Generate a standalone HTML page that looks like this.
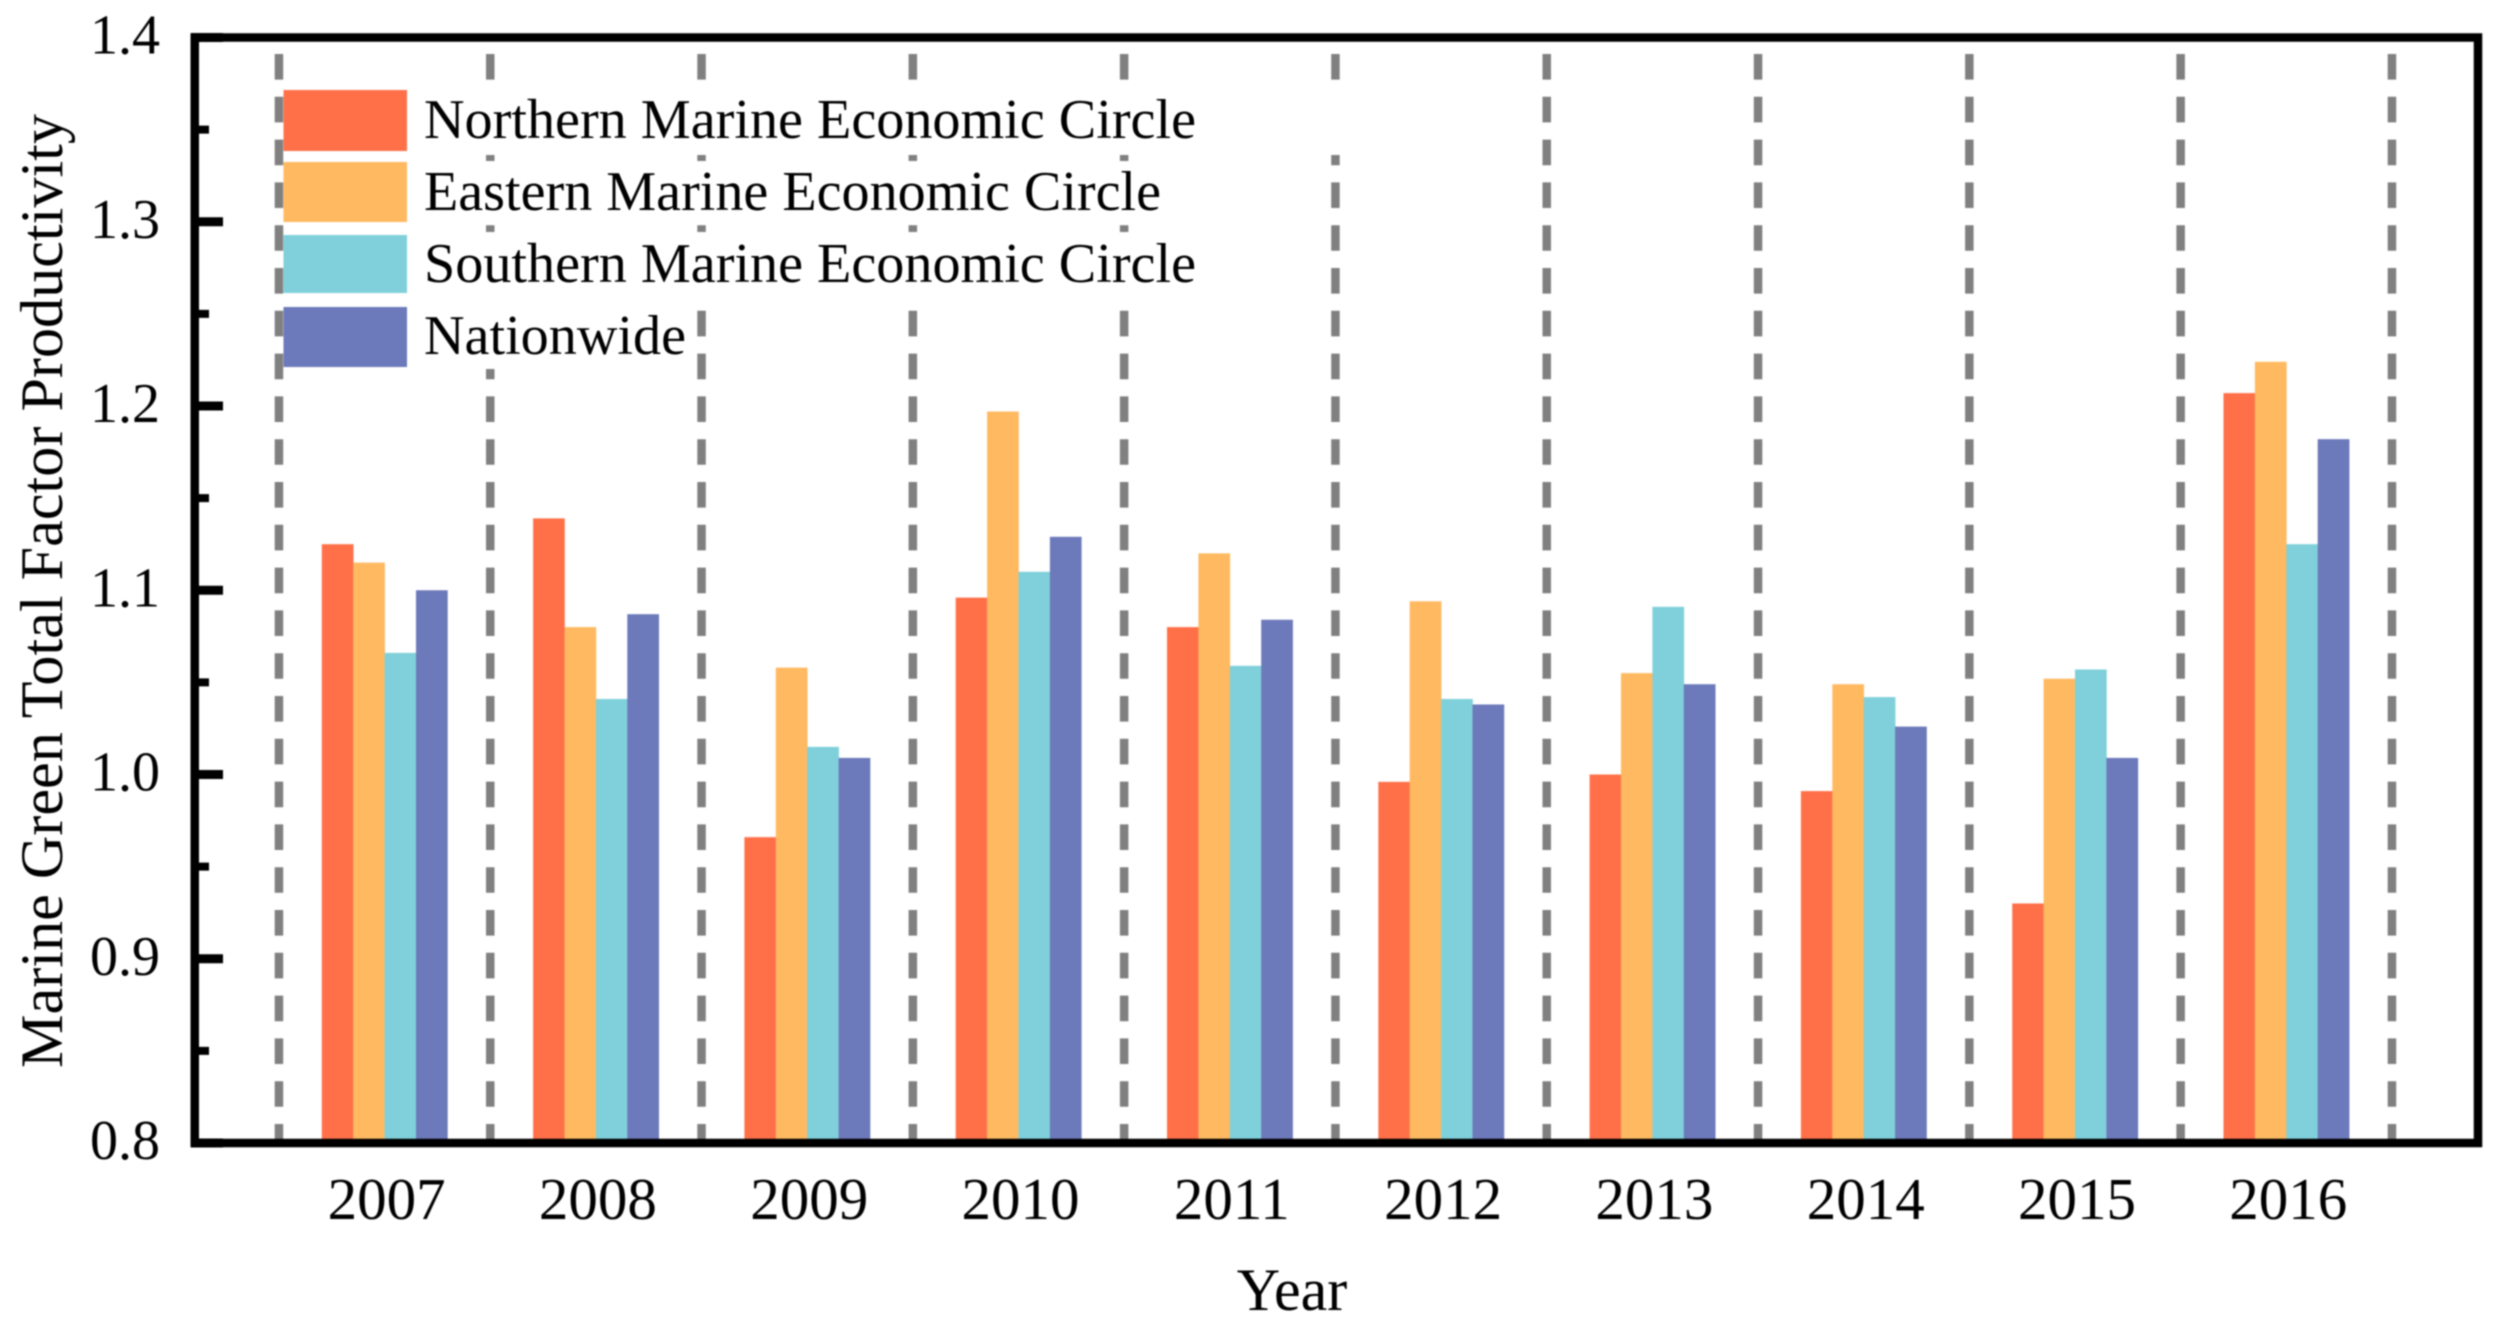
<!DOCTYPE html>
<html lang="en">
<head>
<meta charset="utf-8">
<title>Marine Green Total Factor Productivity</title>
<style>
  html, body { margin: 0; padding: 0; background: #fff; }
  svg { display: block; filter: blur(0.7px); }
  text { font-family: "Liberation Serif", serif; fill: #000; }
</style>
</head>
<body>
<svg id="chart" xmlns="http://www.w3.org/2000/svg" width="2500" height="1328" viewBox="0 0 2500 1328">
  <rect x="0" y="0" width="2500" height="1328" fill="#fff"/>
  <g id="separators"></g>
  <g id="bars"></g>
  <g id="legend">
    <rect x="284" y="80" width="1060" height="75" fill="#fff"/>
    <rect x="284" y="161" width="930" height="63" fill="#fff"/>
    <rect x="284" y="232" width="930" height="77" fill="#fff"/>
    <rect x="284" y="309" width="410" height="60" fill="#fff"/>
    <rect x="283.5" y="90" width="123.5" height="61" fill="#FF7049"/>
    <rect x="283.5" y="162" width="123.5" height="60" fill="#FFB961"/>
    <rect x="283.5" y="235" width="123.5" height="58" fill="#7FD0DA"/>
    <rect x="283.5" y="307" width="123.5" height="60" fill="#6C79BA"/>
    <text x="424" y="138" font-size="56" textLength="772" lengthAdjust="spacingAndGlyphs">Northern Marine Economic Circle</text>
    <text x="424" y="210" font-size="56" textLength="737" lengthAdjust="spacingAndGlyphs">Eastern Marine Economic Circle</text>
    <text x="424" y="282" font-size="56" textLength="772" lengthAdjust="spacingAndGlyphs">Southern Marine Economic Circle</text>
    <text x="424" y="354" font-size="56" textLength="262" lengthAdjust="spacingAndGlyphs">Nationwide</text>
  </g>
  <g id="axes">
    <rect x="194.75" y="37.5" width="2283.25" height="1105.5" fill="none" stroke="#000" stroke-width="8.5"/>
  </g>
  <g id="y-ticks"></g>
  <g id="x-labels"></g>
  <text x="1292" y="1310" font-size="60" text-anchor="middle">Year</text>
  <text transform="translate(62 591) rotate(-90)" font-size="60" text-anchor="middle" textLength="954" lengthAdjust="spacingAndGlyphs">Marine Green Total Factor Productivity</text>
</svg>
<script>
const years = ['2007', '2008', '2009', '2010', '2011', '2012', '2013', '2014', '2015', '2016'];
const northern = [1.125, 1.139, 0.966, 1.096, 1.080, 0.996, 1.000, 0.991, 0.930, 1.207];
const eastern = [1.115, 1.080, 1.058, 1.197, 1.120, 1.094, 1.055, 1.049, 1.052, 1.224];
const southern = [1.066, 1.041, 1.015, 1.110, 1.059, 1.041, 1.091, 1.042, 1.057, 1.125];
const nationwide = [1.100, 1.087, 1.009, 1.129, 1.084, 1.038, 1.049, 1.026, 1.009, 1.182];
const majorTicks = [0.8, 0.9, 1.0, 1.1, 1.2, 1.3, 1.4];
const minorTicks = [0.85, 0.95, 1.05, 1.15, 1.25, 1.35];

const seriesNames = ['northern', 'eastern', 'southern', 'nationwide'];
const seriesValues = [northern, eastern, southern, nationwide];
const seriesColors = ['#FF7049', '#FFB961', '#7FD0DA', '#6C79BA'];

const NS = 'http://www.w3.org/2000/svg';
const BAR_BASE_Y = 1141;
const BAR_W = 31.4;
const BAND = 211.3;

function yScale(v) { return 1143 - (v - 0.8) * 1842.5; }
function bandCenter(i) { return 384.6 + i * BAND; }

const sepLayer = document.getElementById('separators');
for (let i = 0; i <= years.length; i++) {
  const x = bandCenter(i) - BAND / 2;
  const line = document.createElementNS(NS, 'line');
  
  
  line.setAttribute('x1', x);
  line.setAttribute('x2', x);
  line.setAttribute('y1', 54);
  line.setAttribute('y2', BAR_BASE_Y);
  line.setAttribute('stroke', '#808080');
  line.setAttribute('stroke-width', 8.5);
  line.setAttribute('stroke-dasharray', '25.6 17.2');
  sepLayer.appendChild(line);
}

const barLayer = document.getElementById('bars');
seriesValues.forEach(function (values, s) {
  values.forEach(function (v, i) {
    const top = yScale(v);
    const rect = document.createElementNS(NS, 'rect');
    
    
    rect.setAttribute('x', bandCenter(i) - 2 * BAR_W + s * BAR_W);
    rect.setAttribute('y', top);
    rect.setAttribute('width', BAR_W + 0.3);
    rect.setAttribute('height', BAR_BASE_Y - top);
    rect.setAttribute('fill', seriesColors[s]);
    barLayer.appendChild(rect);
  });
});

const yTickLayer = document.getElementById('y-ticks');
majorTicks.forEach(function (v) {
  const y = yScale(v);
  const tick = document.createElementNS(NS, 'rect');
  
  
  tick.setAttribute('x', 191);
  tick.setAttribute('y', y - 4.5);
  tick.setAttribute('width', 32);
  tick.setAttribute('height', 9);
  tick.setAttribute('fill', '#000');
  yTickLayer.appendChild(tick);
  const label = document.createElementNS(NS, 'text');
  
  
  label.setAttribute('x', 160);
  label.setAttribute('y', y + 16);
  label.setAttribute('font-size', 56);
  label.setAttribute('text-anchor', 'end');
  label.textContent = v.toFixed(1);
  yTickLayer.appendChild(label);
});
minorTicks.forEach(function (v) {
  const tick = document.createElementNS(NS, 'rect');
  
  
  tick.setAttribute('x', 191);
  tick.setAttribute('y', yScale(v) - 4);
  tick.setAttribute('width', 18);
  tick.setAttribute('height', 8);
  tick.setAttribute('fill', '#000');
  yTickLayer.appendChild(tick);
});

const xLabelLayer = document.getElementById('x-labels');
years.forEach(function (year, i) {
  const label = document.createElementNS(NS, 'text');
  
  
  label.setAttribute('x', bandCenter(i) + 2);
  label.setAttribute('y', 1219);
  label.setAttribute('font-size', 59);
  label.setAttribute('text-anchor', 'middle');
  label.textContent = year;
  xLabelLayer.appendChild(label);
});
</script>
</body>
</html>
